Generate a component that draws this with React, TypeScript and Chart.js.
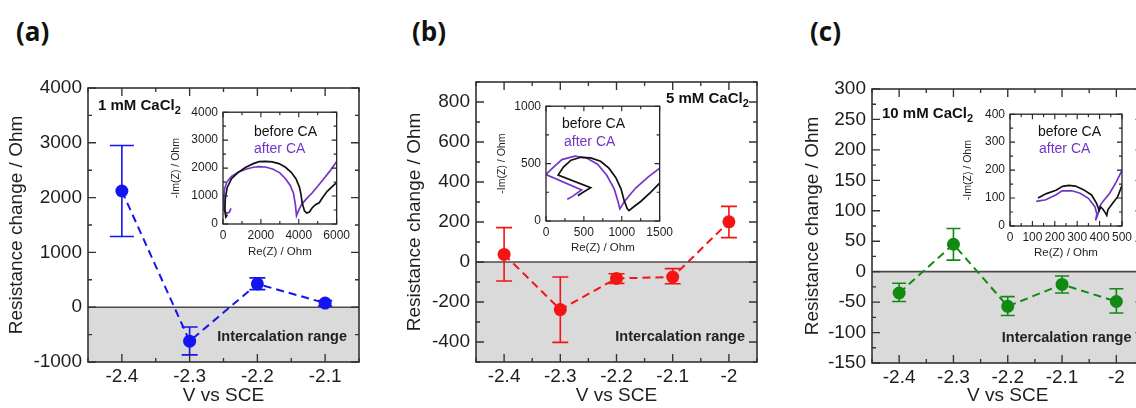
import React, { useEffect, useRef } from "react";
import { Chart, registerables } from "chart.js";
Chart.register(...registerables);

const FONT = '"Liberation Sans", Arial, Helvetica, sans-serif';
const TEXT = "#1e1e1e";

// ---------- Panel (a) 1 mM CaCl2 ----------
const A_POTENTIAL = [-2.4, -2.3, -2.2, -2.1];
const A_DELTA_R = [2120, -620, 425, 75];
const A_ERR_LOW = [1290, -870, 320, 25];
const A_ERR_HIGH = [2950, -360, 535, 120];
// ---------- Panel (b) 5 mM CaCl2 ----------
const B_POTENTIAL = [-2.4, -2.3, -2.2, -2.1, -2.0];
const B_DELTA_R = [38, -238, -82, -75, 201];
const B_ERR_LOW = [-95, -402, -107, -109, 122];
const B_ERR_HIGH = [172, -75, -59, -33, 278];
// ---------- Panel (c) 10 mM CaCl2 ----------
const C_POTENTIAL = [-2.4, -2.3, -2.2, -2.1, -2.0];
const C_DELTA_R = [-35, 45, -57, -21, -49];
const C_ERR_LOW = [-49, 19, -72, -35, -68];
const C_ERR_HIGH = [-19, 71, -41, -7, -28];

const X_TICKS_A = [-2.4, -2.3, -2.2, -2.1];
const X_TICKS_BC = [-2.4, -2.3, -2.2, -2.1, -2.0];
const Y_TICKS_A = [-1000, 0, 1000, 2000, 3000, 4000];
const Y_TICKS_B = [-400, -200, 0, 200, 400, 600, 800];
const Y_TICKS_C = [-150, -100, -50, 0, 50, 100, 150, 200, 250, 300];

// ---------- Insets (Nyquist plots) ----------
const IA_BEFORE_RE = [230, 150, 100, 120, 220, 450, 800, 1200, 1600, 1900, 2250, 2600, 2950, 3300, 3600, 3850, 4030, 4120, 4180, 4300, 4420, 4560, 4720, 4900, 5080, 5250, 5500, 5760, 6000];
const IA_BEFORE_IM = [330, 250, 450, 900, 1300, 1620, 1850, 2030, 2160, 2230, 2240, 2220, 2160, 2030, 1850, 1620, 1330, 1050, 760, 470, 390, 430, 590, 700, 760, 940, 1170, 1340, 1480];
const IA_AFTER_RE = [420, 330, 180, 60, 40, 80, 200, 450, 800, 1200, 1600, 1900, 2250, 2650, 3000, 3300, 3550, 3720, 3820, 3880, 3980, 4150, 4400, 4700, 5000, 5300, 5650, 6000];
const IA_AFTER_IM = [560, 420, 380, 520, 900, 1250, 1500, 1700, 1850, 1960, 2030, 2050, 2040, 1960, 1830, 1620, 1380, 1100, 700, 300, 470, 700, 900, 1110, 1350, 1600, 1900, 2240];

const IB_BEFORE_RE = [420, 490, 590, 160, 230, 330, 460, 590, 720, 830, 920, 990, 1030, 1070, 1095, 1150, 1250, 1380, 1500];
const IB_BEFORE_IM = [220, 250, 290, 400, 470, 530, 555, 550, 520, 460, 380, 280, 180, 110, 90, 120, 170, 250, 330];
const IB_AFTER_RE = [280, 340, 470, 0, 100, 210, 380, 530, 680, 800, 900, 950, 975, 1040, 1180, 1350, 1500];
const IB_AFTER_IM = [190, 210, 270, 405, 470, 535, 565, 550, 495, 400, 280, 170, 105, 175, 285, 385, 460];

const IC_BEFORE_RE = [125, 160, 205, 235, 262, 292, 328, 364, 386, 398, 405, 415, 425, 432, 437, 459, 481, 500];
const IC_BEFORE_IM = [100, 115, 128, 142, 145, 143, 130, 111, 82, 55, 68, 60, 48, 38, 58, 82, 105, 145];
const IC_AFTER_RE = [117, 160, 204, 233, 277, 313, 350, 379, 388, 382, 392, 401, 415, 445, 474, 500];
const IC_AFTER_IM = [88, 94, 111, 126, 126, 117, 99, 69, 42, 20, 40, 71, 88, 117, 157, 199];

const IA_X_TICKS = [0, 2000, 4000, 6000];
const IA_Y_TICKS = [0, 1000, 2000, 3000, 4000];
const IB_X_TICKS = [0, 500, 1000, 1500];
const IB_Y_TICKS = [0, 500, 1000];
const IC_X_TICKS = [0, 100, 200, 300, 400, 500];
const IC_Y_TICKS = [0, 100, 200, 300, 400];

const BEFORE_COLOR = "#111111";
const AFTER_COLOR = "#7434c8";

function minorsOf(majors: number[], min: number, max: number) {
  const step = majors[1] - majors[0];
  const out: number[] = [];
  const eps = Math.abs(step) * 1e-6;
  for (let k = -1; k <= majors.length + 1; k++) {
    const v = majors[0] - step / 2 + k * step;
    if (v >= min - eps && v <= max + eps) out.push(v);
  }
  return out;
}

function framePlugin(cfg: { xMajor: number[]; yMajor: number[]; xMinor: number[]; yMinor: number[]; major: number; minor: number; lw: number; color: string }) {
  return {
    id: "frame",
    afterDraw(chart: any) {
      const { ctx, chartArea: a, scales } = chart;
      const xs = scales.x;
      const ys = scales.y;
      ctx.save();
      ctx.strokeStyle = cfg.color;
      ctx.lineWidth = cfg.lw * 0.85;
      ctx.beginPath();
      const xt = (vals: number[], len: number) => {
        vals.forEach((v) => {
          const px = xs.getPixelForValue(v);
          ctx.moveTo(px, a.bottom);
          ctx.lineTo(px, a.bottom - len);
          ctx.moveTo(px, a.top);
          ctx.lineTo(px, a.top + len);
        });
      };
      const yt = (vals: number[], len: number) => {
        vals.forEach((v) => {
          const py = ys.getPixelForValue(v);
          ctx.moveTo(a.left, py);
          ctx.lineTo(a.left + len, py);
          ctx.moveTo(a.right, py);
          ctx.lineTo(a.right - len, py);
        });
      };
      xt(cfg.xMajor, cfg.major);
      xt(cfg.xMinor, cfg.minor);
      yt(cfg.yMajor, cfg.major);
      yt(cfg.yMinor, cfg.minor);
      ctx.stroke();
      ctx.lineWidth = cfg.lw;
      ctx.strokeRect(a.left, a.top, a.right - a.left, a.bottom - a.top);
      ctx.restore();
    },
  };
}

function bandPlugin(cfg: { lo: number[]; hi: number[]; x: number[]; caps: number[]; color: string }) {
  return {
    id: "band",
    beforeDatasetsDraw(chart: any) {
      const { ctx, chartArea: a, scales } = chart;
      const xs = scales.x;
      const ys = scales.y;
      const y0 = ys.getPixelForValue(0);
      ctx.save();
      ctx.fillStyle = "#dadada";
      ctx.fillRect(a.left, y0, a.right - a.left, a.bottom - y0);
      ctx.strokeStyle = "#4a4a4a";
      ctx.lineWidth = 1.6;
      ctx.beginPath();
      ctx.moveTo(a.left, y0);
      ctx.lineTo(a.right, y0);
      ctx.stroke();
      // error bars
      ctx.strokeStyle = cfg.color;
      ctx.lineWidth = 1.6;
      ctx.beginPath();
      cfg.x.forEach((xv, i) => {
        const px = xs.getPixelForValue(xv);
        const pl = ys.getPixelForValue(cfg.lo[i]);
        const ph = ys.getPixelForValue(cfg.hi[i]);
        const c = cfg.caps[i];
        ctx.moveTo(px, pl);
        ctx.lineTo(px, ph);
        ctx.moveTo(px - c, pl);
        ctx.lineTo(px + c, pl);
        ctx.moveTo(px - c, ph);
        ctx.lineTo(px + c, ph);
      });
      ctx.stroke();
      // region label
      ctx.fillStyle = "#222";
      ctx.font = `bold 14.5px ${FONT}`;
      ctx.textAlign = "right";
      ctx.textBaseline = "middle";
      ctx.fillText("Intercalation range", a.right - 12, a.bottom - 25);
      ctx.restore();
    },
  };
}

type MainCfg = {
  left: number; top: number; width: number; height: number;
  padTop: number; padRight: number; yAxisW: number; xAxisH: number;
  xMin: number; xMax: number; yMin: number; yMax: number;
  xTicks: number[]; yTicks: number[];
  v: number[]; dr: number[]; lo: number[]; hi: number[]; caps: number[];
  color: string;
};

function MainPanel({ p }: { p: MainCfg }) {
  const ref = useRef<HTMLCanvasElement>(null);
  useEffect(() => {
    const chart = new Chart(ref.current as HTMLCanvasElement, {
      type: "line",
      data: {
        datasets: [
          {
            data: p.v.map((x, i) => ({ x, y: p.dr[i] })),
            borderColor: p.color,
            backgroundColor: p.color,
            pointBackgroundColor: p.color,
            pointBorderColor: p.color,
            pointBorderWidth: 0,
            pointRadius: 6.5,
            borderWidth: 2,
            borderDash: [8, 5],
            showLine: true,
            fill: false,
            tension: 0,
          } as any,
        ],
      },
      options: {
        responsive: false,
        animation: false,
        devicePixelRatio: 1,
        layout: { padding: { top: p.padTop, right: p.padRight, left: 0, bottom: 0 } },
        plugins: { legend: { display: false }, tooltip: { enabled: false } },
        scales: {
          x: {
            type: "linear",
            min: p.xMin,
            max: p.xMax,
            afterFit: (s: any) => { s.height = p.xAxisH; },
            afterBuildTicks: (s: any) => { s.ticks = p.xTicks.map((value) => ({ value })); },
            grid: { display: false, drawTicks: false },
            border: { display: false },
            ticks: {
              padding: 3,
              autoSkip: false,
              maxRotation: 0,
              color: TEXT,
              font: { family: FONT, size: 19 },
              callback: (v: any) => String(Math.round(Number(v) * 10) / 10),
            },
            title: { display: true, text: "V vs SCE", color: TEXT, font: { family: FONT, size: 19 }, padding: { top: 0, bottom: 1 } },
          },
          y: {
            type: "linear",
            min: p.yMin,
            max: p.yMax,
            afterFit: (s: any) => { s.width = p.yAxisW; },
            afterBuildTicks: (s: any) => { s.ticks = p.yTicks.map((value) => ({ value })); },
            grid: { display: false, drawTicks: false },
            border: { display: false },
            ticks: {
              padding: 6,
              autoSkip: false,
              color: TEXT,
              font: { family: FONT, size: 19 },
              callback: (v: any) => String(v),
            },
            title: { display: true, text: "Resistance change / Ohm", color: TEXT, font: { family: FONT, size: 19 }, padding: { top: 2, bottom: 0 } },
          },
        },
      },
      plugins: [
        bandPlugin({ lo: p.lo, hi: p.hi, x: p.v, caps: p.caps, color: p.color }),
        framePlugin({
          xMajor: p.xTicks, yMajor: p.yTicks,
          xMinor: minorsOf(p.xTicks, p.xMin, p.xMax), yMinor: minorsOf(p.yTicks, p.yMin, p.yMax),
          major: 8, minor: 4, lw: 1.6, color: "#333",
        }),
      ],
    } as any);
    return () => chart.destroy();
  }, []);
  return (
    <canvas
      ref={ref}
      width={p.width}
      height={p.height}
      style={{ position: "absolute", left: p.left, top: p.top, width: p.width, height: p.height, display: "block" }}
    />
  );
}

type InsetCfg = {
  left: number; top: number; width: number; height: number;
  padTop: number; padRight: number; yAxisW: number; xAxisH: number;
  xMax: number; yMax: number; xTicks: number[]; yTicks: number[];
  bRe: number[]; bIm: number[]; aRe: number[]; aIm: number[];
};

function InsetPanel({ p }: { p: InsetCfg }) {
  const ref = useRef<HTMLCanvasElement>(null);
  useEffect(() => {
    const mk = (re: number[], im: number[], color: string) => ({
      data: re.map((x, i) => ({ x, y: im[i] })),
      borderColor: color,
      backgroundColor: color,
      borderWidth: 1.7,
      pointRadius: 0,
      showLine: true,
      fill: false,
      tension: 0,
    });
    const chart = new Chart(ref.current as HTMLCanvasElement, {
      type: "line",
      data: { datasets: [mk(p.bRe, p.bIm, BEFORE_COLOR), mk(p.aRe, p.aIm, AFTER_COLOR)] as any },
      options: {
        responsive: false,
        animation: false,
        devicePixelRatio: 1,
        layout: { padding: { top: p.padTop, right: p.padRight, left: 0, bottom: 0 } },
        plugins: { legend: { display: false }, tooltip: { enabled: false } },
        scales: {
          x: {
            type: "linear",
            min: 0,
            max: p.xMax,
            afterFit: (s: any) => { s.height = p.xAxisH; },
            afterBuildTicks: (s: any) => { s.ticks = p.xTicks.map((value) => ({ value })); },
            grid: { display: false, drawTicks: false },
            border: { display: false },
            ticks: { padding: 4, autoSkip: false, maxRotation: 0, color: TEXT, font: { family: FONT, size: 12 }, callback: (v: any) => String(v) },
            title: { display: true, text: "Re(Z) / Ohm", color: TEXT, font: { family: FONT, size: 11.5 }, padding: { top: 0, bottom: 0 } },
          },
          y: {
            type: "linear",
            min: 0,
            max: p.yMax,
            afterFit: (s: any) => { s.width = p.yAxisW; },
            afterBuildTicks: (s: any) => { s.ticks = p.yTicks.map((value) => ({ value })); },
            grid: { display: false, drawTicks: false },
            border: { display: false },
            ticks: { padding: 5, autoSkip: false, color: TEXT, font: { family: FONT, size: 12 }, callback: (v: any) => String(v) },
            title: { display: true, text: "-Im(Z) / Ohm", color: TEXT, font: { family: FONT, size: 10.5 }, padding: { top: 0, bottom: 0 } },
          },
        },
      },
      plugins: [
        framePlugin({
          xMajor: p.xTicks, yMajor: p.yTicks,
          xMinor: minorsOf(p.xTicks, 0, p.xMax), yMinor: minorsOf(p.yTicks, 0, p.yMax),
          major: 5, minor: 3, lw: 1.3, color: "#222",
        }),
      ],
    } as any);
    return () => chart.destroy();
  }, []);
  return (
    <canvas
      ref={ref}
      width={p.width}
      height={p.height}
      style={{ position: "absolute", left: p.left, top: p.top, width: p.width, height: p.height, display: "block" }}
    />
  );
}

function Label({ x, y, children, style }: { x: number; y: number; children: any; style?: any }) {
  return (
    <div
      style={{
        position: "absolute",
        left: x,
        top: y,
        transform: "translate(0,-50%)",
        whiteSpace: "nowrap",
        lineHeight: 1,
        fontFamily: FONT,
        color: TEXT,
        ...style,
      }}
    >
      {children}
    </div>
  );
}

const MAIN_A: MainCfg = {
  left: 3, top: 60, width: 367, height: 348, padTop: 28, padRight: 11, yAxisW: 85, xAxisH: 46,
  xMin: -2.45, xMax: -2.05, yMin: -1000, yMax: 4000, xTicks: X_TICKS_A, yTicks: Y_TICKS_A,
  v: A_POTENTIAL, dr: A_DELTA_R, lo: A_ERR_LOW, hi: A_ERR_HIGH, caps: [12, 8, 8, 7], color: "#1414f0",
};
const MAIN_B: MainCfg = {
  left: 401, top: 60, width: 369, height: 348, padTop: 22, padRight: 13, yAxisW: 75, xAxisH: 46,
  xMin: -2.45, xMax: -1.95, yMin: -500, yMax: 900, xTicks: X_TICKS_BC, yTicks: Y_TICKS_B,
  v: B_POTENTIAL, dr: B_DELTA_R, lo: B_ERR_LOW, hi: B_ERR_HIGH, caps: [8, 8, 8, 8, 8], color: "#f41414",
};
const MAIN_C: MainCfg = {
  left: 799, top: 60, width: 351, height: 348, padTop: 29, padRight: 3, yAxisW: 73, xAxisH: 45,
  xMin: -2.45, xMax: -1.95, yMin: -150, yMax: 300, xTicks: X_TICKS_BC, yTicks: Y_TICKS_C,
  v: C_POTENTIAL, dr: C_DELTA_R, lo: C_ERR_LOW, hi: C_ERR_HIGH, caps: [7, 7, 7, 7, 7], color: "#108a10",
};

const INSET_A: InsetCfg = {
  left: 170, top: 100, width: 184, height: 159, padTop: 8, padRight: 14, yAxisW: 53, xAxisH: 35,
  xMax: 6000, yMax: 4000, xTicks: IA_X_TICKS, yTicks: IA_Y_TICKS,
  bRe: IA_BEFORE_RE, bIm: IA_BEFORE_IM, aRe: IA_AFTER_RE, aIm: IA_AFTER_IM,
};
const INSET_B: InsetCfg = {
  left: 496, top: 94, width: 181, height: 161, padTop: 8, padRight: 12, yAxisW: 50, xAxisH: 34,
  xMax: 1500, yMax: 1000, xTicks: IB_X_TICKS, yTicks: IB_Y_TICKS,
  bRe: IB_BEFORE_RE, bIm: IB_BEFORE_IM, aRe: IB_AFTER_RE, aIm: IB_AFTER_IM,
};
const INSET_C: InsetCfg = {
  left: 962, top: 102, width: 174, height: 158, padTop: 8, padRight: 11, yAxisW: 48, xAxisH: 34,
  xMax: 500, yMax: 400, xTicks: IC_X_TICKS, yTicks: IC_Y_TICKS,
  bRe: IC_BEFORE_RE, bIm: IC_BEFORE_IM, aRe: IC_AFTER_RE, aIm: IC_AFTER_IM,
};

const conc = (n: string) => (
  <span>
    {n} mM CaCl<span style={{ fontSize: 11, position: "relative", top: 4 }}>2</span>
  </span>
);

export default function App() {
  const panelLabel = { fontFamily: '"Open Sans", "Noto Sans", sans-serif', fontWeight: 700, fontSize: 26, color: "#111" };
  const concStyle = { fontWeight: 700, fontSize: 15, color: "#111" };
  const legendStyle = { fontSize: 14 };
  return (
    <div style={{ position: "fixed", left: 0, top: 0, width: 1136, height: 408, overflow: "hidden", background: "#fff" }}>
      <MainPanel p={MAIN_A} />
      <MainPanel p={MAIN_B} />
      <MainPanel p={MAIN_C} />
      <InsetPanel p={INSET_A} />
      <InsetPanel p={INSET_B} />
      <InsetPanel p={INSET_C} />

      <Label x={16} y={31} style={panelLabel}>(a)</Label>
      <Label x={412} y={31} style={panelLabel}>(b)</Label>
      <Label x={810} y={31} style={panelLabel}>(c)</Label>

      <Label x={98} y={104} style={concStyle}>{conc("1")}</Label>
      <Label x={666} y={97} style={concStyle}>{conc("5")}</Label>
      <Label x={882} y={112} style={concStyle}>{conc("10")}</Label>

      <Label x={254} y={131} style={{ ...legendStyle, color: BEFORE_COLOR }}>before CA</Label>
      <Label x={254} y={148} style={{ ...legendStyle, color: AFTER_COLOR }}>after CA</Label>
      <Label x={562} y={123} style={{ ...legendStyle, color: BEFORE_COLOR }}>before CA</Label>
      <Label x={564} y={141} style={{ ...legendStyle, color: AFTER_COLOR }}>after CA</Label>
      <Label x={1038} y={131} style={{ ...legendStyle, color: BEFORE_COLOR }}>before CA</Label>
      <Label x={1039} y={148} style={{ ...legendStyle, color: AFTER_COLOR }}>after CA</Label>
    </div>
  );
}
